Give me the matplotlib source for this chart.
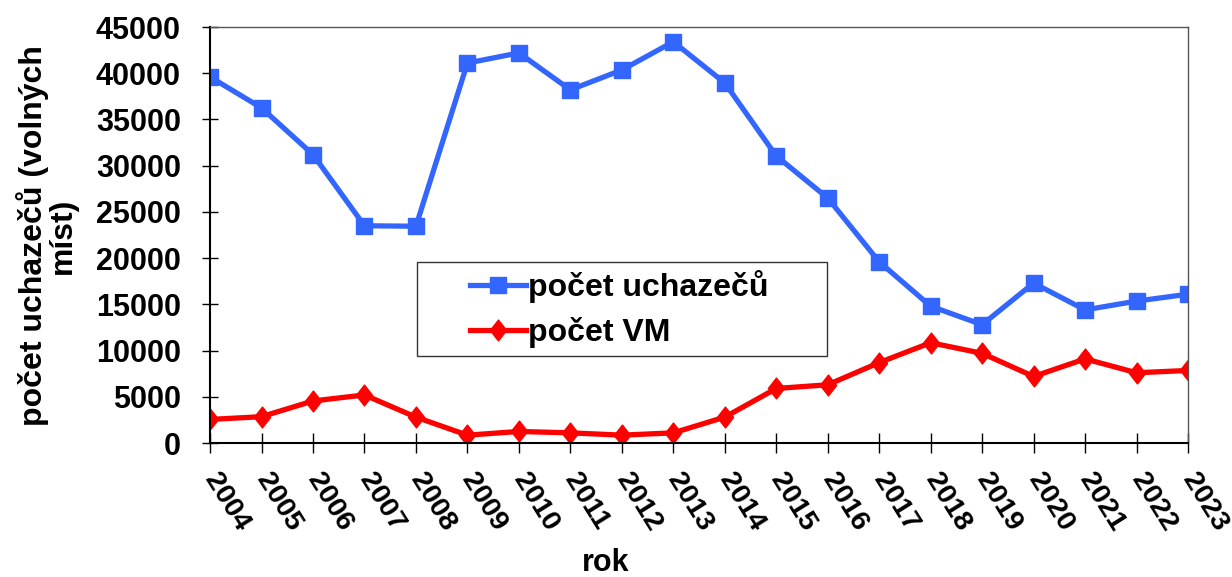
import matplotlib.pyplot as plt
from matplotlib.patches import Rectangle
from matplotlib.path import Path
from matplotlib.transforms import ScaledTranslation

years = list(range(2004, 2024))
uchazeci = [39600, 36250, 31200, 23500, 23450, 41100, 42200, 38200, 40350, 43400,
            38950, 31050, 26500, 19600, 14800, 12800, 17300, 14400, 15350, 16100]
volna_mista = [2550, 2850, 4550, 5200, 2800, 850, 1250, 1100, 850, 1100,
               2800, 5900, 6300, 8700, 10850, 9700, 7200, 9100, 7600, 7850]

plt.rcParams['font.family'] = ['Liberation Sans', 'DejaVu Sans']
plt.rcParams['font.weight'] = 'bold'

# excel-like diamond (taller than wide)
diamond = Path([(0, 1), (0.78, 0), (0, -1), (-0.78, 0), (0, 1)],
               [Path.MOVETO, Path.LINETO, Path.LINETO, Path.LINETO, Path.CLOSEPOLY])

fig = plt.figure(figsize=(12.32, 5.77), dpi=100)
ax = fig.add_axes([0.1705, 0.2322, 0.7938, 0.721])

ax.plot(years, uchazeci, color='#3366FF', lw=3.8, marker='s', ms=11,
        label='počet uchazečů')
ax.plot(years, volna_mista, color='#FF0000', lw=3.8, marker=diamond, ms=15,
        label='počet VM')

ax.set_xlim(2004, 2023)
ax.set_ylim(0, 45000)
ax.set_yticks(range(0, 45001, 5000))
ax.set_xticks(years)
ax.set_xticklabels([str(y) for y in years], rotation=-58, ha='left', va='center',
                   rotation_mode='anchor', fontsize=20.5, fontweight='bold')
shift = ScaledTranslation(-5 / 100, 0, fig.dpi_scale_trans)
for lbl in ax.get_xticklabels():
    lbl.set_transform(lbl.get_transform() + shift)
for lbl in ax.get_yticklabels():
    lbl.set_fontsize(22)
    lbl.set_fontweight('bold')
ax.tick_params(axis='y', direction='inout', length=11, width=1, pad=15.5)
ax.tick_params(axis='x', direction='inout', length=14, width=1, pad=16)

for side in ['top', 'right']:
    ax.spines[side].set_color('#555555')
    ax.spines[side].set_linewidth(1)
for side in ['left', 'bottom']:
    ax.spines[side].set_linewidth(1.5)

fig.text(606 / 1232, 1 - 563 / 577, 'rok', fontsize=22, fontweight='bold',
         ha='center', va='center')
fig.text(47 / 1232, 1 - 236 / 577, 'počet uchazečů (volných\nmíst)', fontsize=23,
         fontweight='bold', rotation=90, ha='center', va='center',
         multialignment='center', linespacing=0.95)

ax.add_patch(Rectangle((0.2117, 0.209), 0.4192, 0.226, transform=ax.transAxes,
                       facecolor='white', edgecolor='#333333', lw=1, zorder=4))
leg = ax.legend(loc='center', bbox_to_anchor=(0.4185, 0.322), fontsize=23,
                frameon=False, handlelength=1.75, labelspacing=0.45,
                handletextpad=0.05, borderaxespad=0)
leg.set_zorder(5)

fig.savefig('out.png', dpi=100)
